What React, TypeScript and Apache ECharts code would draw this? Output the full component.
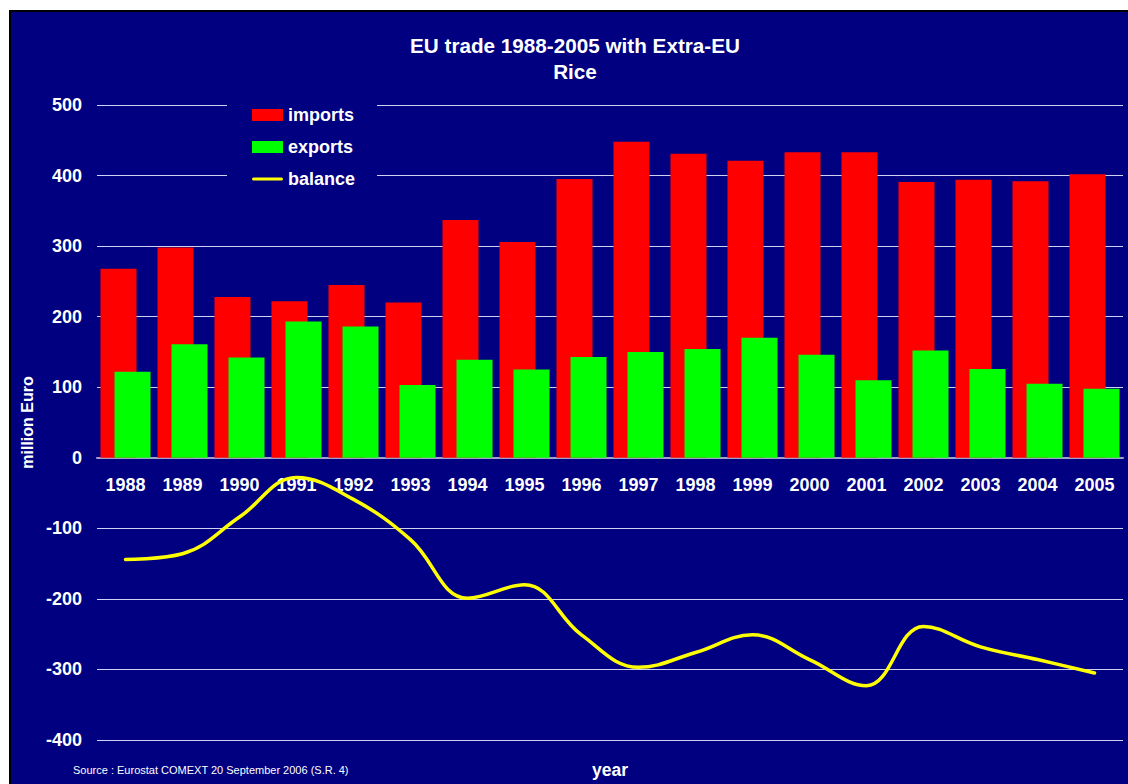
import React, { useEffect, useRef } from "react";
import * as echarts from "echarts";

const years = ["1988","1989","1990","1991","1992","1993","1994","1995","1996","1997","1998","1999","2000","2001","2002","2003","2004","2005"];
const imports = [268, 298, 228, 222, 245, 220, 337, 306, 395, 448, 431, 421, 433, 433, 391, 394, 392, 402];
const exports_ = [122, 161, 142, 193, 186, 103, 139, 125, 143, 150, 154, 170, 146, 110, 152, 126, 105, 98];
const balance = [-144, -136, -84, -28, -59, -116, -199, -180, -251, -297, -276, -251, -286, -323, -239, -268, -286, -305];
const yTicks = { min: -400, max: 500, interval: 100 };

const NAVY = "#000080";
const FONT = "'Liberation Sans', Arial, sans-serif";
const LINE_ICON =
  "path://M0,0 L0.01,0 L0,0.01 Z M1.5,4.5 L29.5,4.5 A1.5,1.5 0 0 1 29.5,7.5 L1.5,7.5 A1.5,1.5 0 0 1 1.5,4.5 Z M30.99,12 L31,12 L31,11.99 Z";

export default function App() {
  const ref = useRef<HTMLDivElement>(null);
  useEffect(() => {
    const chart = echarts.init(ref.current!, null, { renderer: "svg" });
    const gridTop = 105;
    const gridBottom = 44;
    const plotH = 784 - gridTop - gridBottom;
    const zeroOffset = -(plotH * (0 - yTicks.min)) / (yTicks.max - yTicks.min);
    chart.setOption({
      animation: false,
      backgroundColor: "#ffffff",
      textStyle: { fontFamily: FONT },
      graphic: [
        {
          type: "rect",
          z: -10,
          shape: { x: 10, y: 11, width: 1130, height: 790 },
          style: { fill: NAVY, stroke: "#000000", lineWidth: 2 },
        },
        {
          type: "text",
          x: 575,
          y: 33,
          style: {
            text: "EU trade 1988-2005 with Extra-EU\nRice",
            fill: "#ffffff",
            font: `bold 20.7px ${FONT}`,
            align: "center",
            lineHeight: 25.5,
          },
        },
        {
          type: "text",
          x: 73,
          y: 764,
          style: {
            text: "Source : Eurostat COMEXT 20 September 2006 (S.R. 4)",
            fill: "#ffffff",
            font: `11px ${FONT}`,
          },
        },
        {
          type: "text",
          x: 610,
          y: 761,
          style: {
            text: "year",
            fill: "#ffffff",
            font: `bold 17.5px ${FONT}`,
            align: "center",
          },
        },
      ],
      legend: {
        orient: "vertical",
        left: 227,
        top: 98,
        backgroundColor: NAVY,
        padding: [8, 22, 8, 25],
        itemWidth: 31,
        itemHeight: 12,
        itemGap: 14,
        textStyle: { color: "#ffffff", fontSize: 18, fontWeight: "bold", fontFamily: FONT },
        data: [
          { name: "imports", icon: "rect" },
          { name: "exports", icon: "rect" },
          { name: "balance", icon: LINE_ICON, itemStyle: { color: "#ffff00" } },
        ],
      },
      grid: { left: 97, right: 5, top: gridTop, bottom: gridBottom, containLabel: false },
      xAxis: {
        type: "category",
        data: years,
        offset: zeroOffset,
        axisLine: { onZero: false, lineStyle: { color: "#a0a0c8", width: 2 } },
        axisTick: { show: false },
        axisLabel: { color: "#ffffff", fontSize: 18, fontWeight: "bold", margin: 18, fontFamily: FONT },
        splitLine: { show: false },
      },
      yAxis: {
        type: "value",
        min: yTicks.min,
        max: yTicks.max,
        interval: yTicks.interval,
        name: "million Euro",
        nameLocation: "middle",
        nameGap: 60,
        nameTextStyle: { color: "#ffffff", fontSize: 16, fontWeight: "bold", fontFamily: FONT },
        axisLine: { show: false },
        axisTick: { show: false },
        axisLabel: { color: "#ffffff", fontSize: 18, fontWeight: "bold", margin: 15, fontFamily: FONT },
        splitLine: { lineStyle: { color: "#d0d0f0", width: 1 } },
      },
      series: [
        {
          name: "imports",
          type: "bar",
          data: imports,
          barWidth: 36,
          barGap: "-61%",
          itemStyle: { color: "#ff0000" },
        },
        {
          name: "exports",
          type: "bar",
          data: exports_,
          barWidth: 36,
          barGap: "-61%",
          itemStyle: { color: "#00ff00" },
        },
        {
          name: "balance",
          type: "line",
          data: balance,
          smooth: 0.4,
          symbol: "none",
          itemStyle: { color: "#ffff00" },
          lineStyle: { color: "#ffff00", width: 3.5, cap: "round" },
          z: 5,
        },
      ],
    });
    return () => chart.dispose();
  }, []);
  return <div ref={ref} style={{ position: "fixed", left: 0, top: 0, width: 1128, height: 784 }} />;
}
